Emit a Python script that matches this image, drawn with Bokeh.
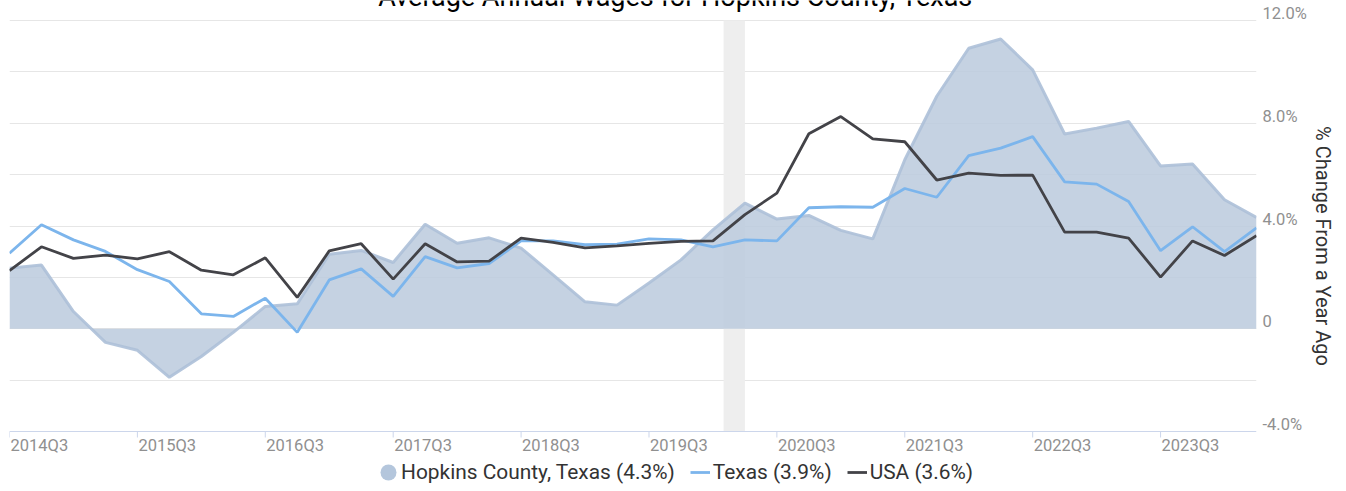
from bokeh.plotting import figure
from bokeh.models import (Range1d, FixedTicker, Legend, LegendItem, LinearAxis,
                          ColumnDataSource, Span)
from bokeh.core.properties import value
from bokeh.embed import file_html
from bokeh.resources import INLINE

title = "Average Annual Wages for Hopkins County, Texas"
y_axis_title = "% Change From a Year Ago"

# quarters 2014Q3 .. 2024Q2
quarters = [f"{2014 + (2 + i) // 4}Q{(2 + i) % 4 + 1}" for i in range(40)]

hopkins = [2.36, 2.48, 0.67, -0.53, -0.84, -1.89, -1.08, -0.14, 0.87, 0.97,
           2.90, 3.05, 2.58, 4.07, 3.33, 3.54, 3.14, 2.10, 1.05, 0.92,
           1.78, 2.68, 3.85, 4.89, 4.27, 4.41, 3.83, 3.50, 6.58, 9.05,
           10.92, 11.28, 10.08, 7.58, 7.81, 8.07, 6.34, 6.41, 5.02, 4.33]
texas = [2.94, 4.05, 3.46, 3.01, 2.30, 1.84, 0.58, 0.48, 1.19, -0.14,
         1.90, 2.33, 1.26, 2.81, 2.37, 2.54, 3.42, 3.42, 3.27, 3.29,
         3.50, 3.46, 3.19, 3.46, 3.42, 4.71, 4.75, 4.73, 5.46, 5.12,
         6.74, 7.03, 7.48, 5.72, 5.63, 4.95, 3.04, 3.97, 3.00, 3.93]
usa = [2.26, 3.19, 2.74, 2.87, 2.72, 3.00, 2.28, 2.10, 2.76, 1.22,
       3.03, 3.31, 1.93, 3.31, 2.60, 2.63, 3.53, 3.36, 3.15, 3.23,
       3.32, 3.40, 3.42, 4.44, 5.28, 7.59, 8.26, 7.39, 7.28, 5.79,
       6.06, 5.97, 5.98, 3.76, 3.76, 3.53, 2.01, 3.42, 2.85, 3.62]

legend_labels = ["Hopkins County, Texas (4.3%)", "Texas (3.9%)", "USA (3.6%)"]

y_min, y_max = -4, 12
y_ticks = [-4, 0, 4, 8, 12]
y_tick_labels = ["-4.0%", "0", "4.0%", "8.0%", "12.0%"]
y_grid = [-2, 0, 2, 4, 6, 8, 10, 12]

# recession (year, month) start/end
recession_start = (2020, 2)
recession_end = (2020, 4)


def q_index(ym):
    y, m = ym
    return (y - 2014) * 4 + (m - 7) / 3.0


x = list(range(len(quarters)))
src = ColumnDataSource(dict(x=x, hopkins=hopkins, texas=texas, usa=usa,
                            base=[0] * len(x)))

FONT = "Roboto"
W, H = 1346, 491
LEFT, RIGHT = 9, 90
TOP_PX, BOTTOM_PX = 20, 60          # pixels above 12% / below -4%
px_per_unit = 411 / (y_max - y_min)
px_per_q = (W - LEFT - RIGHT) / (len(x) - 1)
lab_pad = 7 / px_per_unit           # y tick labels sit ~7px above their gridlines

y_lo = y_min - BOTTOM_PX / px_per_unit
y_hi = y_max + TOP_PX / px_per_unit

p = figure(width=W, height=H,
           x_range=Range1d(0, len(x) - 1), y_range=Range1d(y_lo, y_hi),
           output_backend="svg", toolbar_location=None,
           y_axis_location=None, x_axis_location=None,
           min_border_left=LEFT, min_border_right=RIGHT, min_border_top=0,
           min_border_bottom=0)
p.outline_line_color = None
p.background_fill_color = "white"

# grid
p.xgrid.grid_line_color = None
p.ygrid.ticker = FixedTicker(ticks=y_grid)
p.ygrid.grid_line_color = "#e6e6e6"
p.ygrid.grid_line_width = 1

# recession band
p.quad(left=[q_index(recession_start)], right=[q_index(recession_end)],
       bottom=[y_min], top=[y_max], fill_color="#eeeeee", line_color=None)

# series
p.varea(x="x", y1="base", y2="hopkins", source=src, fill_color="#bbcadd", fill_alpha=0.85)
p.line("x", "hopkins", source=src, line_color="#adc0d8", line_width=3, line_alpha=0.9)
r_tx = p.line("x", "texas", source=src, line_color="#7cb5ec", line_width=2.8)
r_us = p.line("x", "usa", source=src, line_color="#434348", line_width=2.8)

# legend-only circle marker
dummy = p.ellipse(x=[float("nan")], y=[float("nan")], width=20, height=20,
                  width_units="screen", height_units="screen",
                  fill_color="#b4c6dc", line_color=None)

# bottom axis: line, tick marks, labels (left-aligned right after each tick)
p.add_layout(Span(location=y_min, dimension="width", line_color="#ccd6eb", line_width=1))
xt = list(range(0, len(x), 4))
tick_len = 6 / px_per_unit
p.segment(x0=xt, y0=[y_min] * len(xt), x1=xt, y1=[y_min - tick_len] * len(xt),
          line_color="#ccd6eb", line_width=1)
p.text(x=xt, y=[y_min] * len(xt), text=[quarters[t] for t in xt],
       x_offset=1, y_offset=14, text_align="left", text_baseline="middle",
       text_font=value(FONT), text_font_size="16.5px", text_color="#909090")

# title (cut off at the top edge as in the original)
title_x = (675 - LEFT) / px_per_q
p.text(x=[title_x], y=[y_max], text=[title], y_offset=-24,
       text_align="center", text_baseline="alphabetic",
       text_font=value(FONT), text_font_size="27px", text_color="#000000")

# right axis (labels offset slightly above their gridlines)
p.extra_y_ranges = {"lab": Range1d(y_lo - lab_pad, y_hi - lab_pad)}
ay = LinearAxis(y_range_name="lab")
ay.ticker = FixedTicker(ticks=y_ticks)
ay.major_label_overrides = {t: l for t, l in zip(y_ticks, y_tick_labels)}
ay.axis_line_color = None
ay.major_tick_line_color = None
ay.minor_tick_line_color = None
ay.major_label_standoff = 0
ay.major_label_text_font = FONT
ay.major_label_text_font_size = "16.5px"
ay.major_label_text_color = "#909090"
ay.axis_label = y_axis_title
ay.axis_label_text_font = FONT
ay.axis_label_text_font_size = "20px"
ay.axis_label_text_font_style = "normal"
ay.axis_label_text_color = "#333333"
ay.axis_label_standoff = 1
p.add_layout(ay, "right")

leg = Legend(items=[LegendItem(label=legend_labels[0], renderers=[dummy]),
                    LegendItem(label=legend_labels[1], renderers=[r_tx]),
                    LegendItem(label=legend_labels[2], renderers=[r_us])],
             orientation="horizontal", location=(369, 7), padding=2, margin=0,
             border_line_color=None, background_fill_alpha=0,
             label_text_font=FONT, label_text_font_size="20.9px", label_text_color="#333333",
             label_height=20, glyph_height=20, glyph_width=20, label_standoff=3, spacing=15)
p.add_layout(leg)

open("out.html", "w").write(file_html(p, INLINE))
